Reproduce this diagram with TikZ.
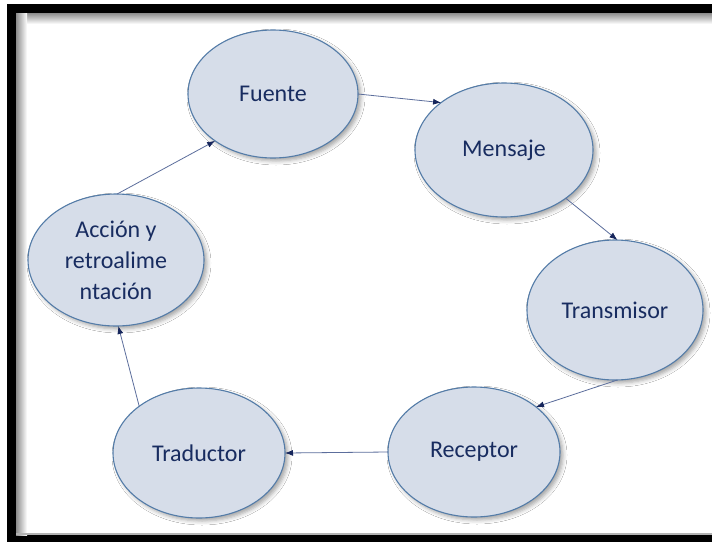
\documentclass[tikz,border=0pt]{standalone}
\usepackage{fontspec}
\setmainfont{Carlito}
\usetikzlibrary{shapes.geometric,arrows.meta,shadows.blur}

\definecolor{bubblefill}{RGB}{214,221,233}
\definecolor{bubbleline}{RGB}{84,124,168}
\definecolor{bubbletext}{RGB}{24,44,96}
\definecolor{linkline}{RGB}{92,110,156}
\definecolor{linktip}{RGB}{22,38,92}

\tikzset{
  bubble/.style={ellipse, draw=bubbleline, line width=1.1pt, fill=bubblefill,
    inner sep=0pt, outer sep=0pt, align=center, text=bubbletext,
    font=\fontsize{24}{31}\selectfont,
    blur shadow={shadow xshift=3pt, shadow yshift=-3pt,
      shadow blur radius=4pt, shadow opacity=35}},
  link/.style={draw=linkline, line width=0.8pt,
    -{Latex[length=8pt,width=6pt,color=linktip]}}
}

\begin{document}
\begin{tikzpicture}[x=1pt,y=-1pt]
  \useasboundingbox (0,0) rectangle (712,541);
  % page with thick black frame and soft inner edge
  \fill[white] (0,0) rectangle (712,541);
  \fill[black] (7,4) rectangle (720,545);
  \fill[white] (16,13) rectangle (712,535);
  \shade[top color=black!45, bottom color=white] (16,13) rectangle (712,24);
  \shade[left color=black!45, right color=white] (16,13) rectangle (27,535);
  \fill[black!30] (16,533) rectangle (712,535);

  % stages of the cycle
  \node[bubble, minimum width=170pt, minimum height=128pt] (fuente) at (273,94) {Fuente};
  \node[bubble, minimum width=178pt, minimum height=134pt] (mensaje) at (504,150) {Mensaje};
  \node[bubble, minimum width=176pt, minimum height=140pt] (transmisor) at (615,310) {Transmisor};
  \node[bubble, minimum width=172pt, minimum height=130pt] (receptor) at (474,452) {Receptor};
  \node[bubble, minimum width=172pt, minimum height=130pt] (traductor) at (199,453) {Traductor};
  \node[bubble, minimum width=176pt, minimum height=132pt] (accion) at (116,260)
    {Acción y\\retroalime\\ntación};

  % flow between stages
  \draw[link] (fuente.0) -- (mensaje.143);
  \draw[link] (mensaje.-38) -- (transmisor.88);
  \draw[link] (transmisor.-88) -- (receptor.36);
  \draw[link] (receptor.180) -- (traductor.0);
  \draw[link] (traductor.142) -- (accion.-88);
  \draw[link] (accion.89) -- (fuente.-141);
\end{tikzpicture}
\end{document}
